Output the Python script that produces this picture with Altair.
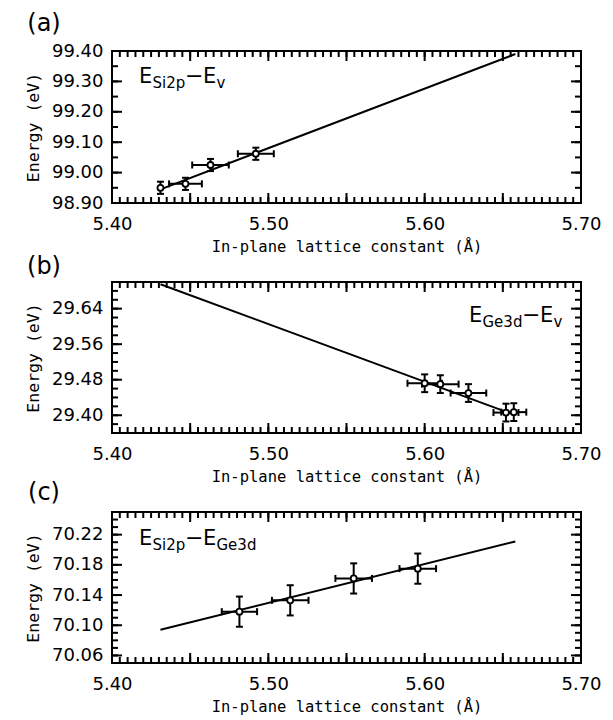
import altair as alt
import numpy as np
import pandas as pd

FONT = "DejaVu Sans"
TITLE_FONT = "DejaVu Sans Mono"
PANEL_W = 469

# Shared x axis: in-plane lattice constant (Å)
x_domain = [5.40, 5.70]
x_labels = [5.40, 5.50, 5.60, 5.70]

# (a) E_Si2p - E_v
a_x = [5.431, 5.447, 5.463, 5.492]
a_y = [98.950, 98.963, 99.025, 99.062]
a_xerr = [0.0, 0.0105, 0.0117, 0.0115]
a_yerr = [0.02, 0.02, 0.02, 0.02]
a_fit_x = [5.431, 5.658]
a_fit_y = [98.945, 99.390]
a_domain = [98.90, 99.40]
a_labels = [98.90, 99.00, 99.10, 99.20, 99.30, 99.40]

# (b) E_Ge3d - E_v
b_x = [5.600, 5.610, 5.628, 5.652, 5.657]
b_y = [29.472, 29.470, 29.450, 29.406, 29.407]
b_xerr = [0.011, 0.0117, 0.0114, 0.008, 0.008]
b_yerr = [0.02, 0.02, 0.02, 0.02, 0.02]
b_fit_x = [5.431, 5.658]
b_fit_y = [29.695, 29.400]
b_domain = [29.36, 29.70]
b_labels = [29.40, 29.48, 29.56, 29.64]

# (c) E_Si2p - E_Ge3d
c_x = [5.4815, 5.514, 5.5546, 5.5956]
c_y = [70.118, 70.133, 70.162, 70.175]
c_xerr = [0.0113, 0.0117, 0.0117, 0.0117]
c_yerr = [0.02, 0.02, 0.02, 0.02]
c_fit_x = [5.431, 5.658]
c_fit_y = [70.094, 70.211]
c_domain = [70.05, 70.25]
c_labels = [70.06, 70.10, 70.14, 70.18, 70.22]


def steps(lo, hi, step):
    return [round(float(v), 4) for v in np.arange(lo, hi + step / 2, step)]


def panel(xs, ys, xerr, yerr, fit_x, fit_y, ydom, ylabels, yminor, h,
          tag, tag_y, notes, anchor=False):
    xs_scale = alt.Scale(domain=x_domain, nice=False, zero=False)
    ys_scale = alt.Scale(domain=ydom, nice=False, zero=False)
    x_axis = alt.Axis(values=x_labels, format=".2f", ticks=False, domain=False,
                      grid=False, labelFont=FONT, labelFontSize=18,
                      labelColor="black", labelPadding=12, labelFlush=False,
                      labelOverlap=False, titleFont=TITLE_FONT,
                      titleFontSize=15.5, titleFontWeight="normal",
                      titleColor="black", titlePadding=6)
    y_axis = alt.Axis(values=ylabels, format=".2f", ticks=False, domain=False,
                      grid=False, labelFont=FONT, labelFontSize=18,
                      labelColor="black", labelPadding=9, labelFlush=False,
                      labelOverlap=False, titleFont=TITLE_FONT,
                      titleFontSize=16.5, titleFontWeight="normal",
                      titleColor="black", titlePadding=10)

    def X(f):
        return alt.X(f, type="quantitative", scale=xs_scale, axis=x_axis,
                     title="In-plane lattice constant (Å)")

    def Y(f):
        return alt.Y(f, type="quantitative", scale=ys_scale, axis=y_axis,
                     title="Energy (eV)")

    def Xp(f):
        return alt.X(f, type="quantitative", scale=xs_scale, axis=None)

    def Yp(f):
        return alt.Y(f, type="quantitative", scale=ys_scale, axis=None)

    pts = pd.DataFrame({"x": xs, "y": ys, "xe": xerr, "ye": yerr})
    pts["xlo"] = pts.x - pts.xe
    pts["xhi"] = pts.x + pts.xe
    pts["ylo"] = pts.y - pts.ye
    pts["yhi"] = pts.y + pts.ye
    hpts = pts[pts.xe > 0].reset_index(drop=True)
    caps_v = pd.DataFrame({"x": list(pts.x) * 2,
                           "y": list(pts.ylo) + list(pts.yhi)})
    caps_h = pd.DataFrame({"x": list(hpts.xlo) + list(hpts.xhi),
                           "y": list(hpts.y) * 2})
    fit = pd.DataFrame({"x": fit_x, "y": fit_y})

    # frame ticks pointing inward on all four edges
    frame = []
    x_long = steps(5.40, 5.70, 0.05)
    x_short = steps(5.40, 5.70, 0.005)
    y_long = list(ylabels)
    y_short = steps(ydom[0], ydom[1], yminor)
    for vals, ln in ((x_short, 6), (x_long, 10)):
        for edge, off in ((ydom[0], -ln / 2), (ydom[1], ln / 2)):
            df = pd.DataFrame({"tx": vals, "ty": [edge] * len(vals)})
            frame.append(alt.Chart(df).mark_tick(color="black",
                                                 orient="vertical", size=ln,
                                                 thickness=2, opacity=1,
                                                 yOffset=off)
                         .encode(x=Xp("tx"), y=Yp("ty")))
    for vals, ln in ((y_short, 6), (y_long, 10)):
        for edge, off in ((x_domain[0], ln / 2), (x_domain[1], -ln / 2)):
            df = pd.DataFrame({"tx": [edge] * len(vals), "ty": vals})
            frame.append(alt.Chart(df).mark_tick(color="black",
                                                 orient="horizontal", size=ln,
                                                 thickness=2, opacity=1,
                                                 xOffset=off)
                         .encode(x=Xp("tx"), y=Yp("ty")))

    main = []
    # fitted line
    main.append(alt.Chart(fit).mark_line(color="black", strokeWidth=2)
                .encode(x=X("x"), y=Y("y")))
    # error bars with caps
    main.append(alt.Chart(pts).mark_rule(color="black", strokeWidth=2)
                .encode(x=X("x"), y=Y("ylo"), y2="yhi"))
    main.append(alt.Chart(hpts).mark_rule(color="black", strokeWidth=2)
                .encode(x=X("xlo"), x2="xhi", y=Y("y")))
    main.append(alt.Chart(caps_v).mark_tick(color="black", orient="horizontal",
                                            size=7, thickness=2, opacity=1)
                .encode(x=X("x"), y=Y("y")))
    main.append(alt.Chart(caps_h).mark_tick(color="black", orient="vertical",
                                            size=7, thickness=2, opacity=1)
                .encode(x=X("x"), y=Y("y")))
    # open circles
    main.append(alt.Chart(pts).mark_point(shape="circle", filled=True,
                                          fill="white", stroke="black",
                                          strokeWidth=1.8, size=36, opacity=1)
                .encode(x=X("x"), y=Y("y")))

    one = pd.DataFrame({"k": [0]})
    # panel tag
    main.append(alt.Chart(one).mark_text(text=tag, font=FONT, fontSize=24,
                                         align="center", baseline="middle",
                                         color="black")
                .encode(x=alt.value(-68), y=alt.value(tag_y)))
    # energy-difference label with subscripts
    for txt, size, px, py in notes:
        main.append(alt.Chart(one).mark_text(text=txt, font=FONT,
                                             fontSize=size, align="left",
                                             baseline="alphabetic",
                                             color="black")
                    .encode(x=alt.value(px), y=alt.value(py)))
    if anchor:
        # keeps the page origin fixed relative to the first plot frame
        main.append(alt.Chart(one).mark_rule(opacity=0, strokeWidth=0)
                    .encode(x=alt.value(-111), x2=alt.value(-111),
                            y=alt.value(-50), y2=alt.value(-50)))

    return (
        alt.layer(alt.layer(*main), alt.layer(*frame))
        .resolve_axis(x="independent", y="independent")
        .properties(width=PANEL_W, height=h)
    )


notes_a = [("E", 21, 27, 32), ("Si2p", 15, 40.5, 37), ("−", 22, 73, 32),
           ("E", 21, 91, 32), ("v", 15, 104.5, 37)]
notes_b = [("E", 21, 357, 40), ("Ge3d", 15, 370.5, 45), ("−", 22, 410, 40),
           ("E", 21, 428, 40), ("v", 15, 441.5, 45)]
notes_c = [("E", 21, 27, 33), ("Si2p", 15, 40.5, 38), ("−", 22, 73, 33),
           ("E", 21, 91, 33), ("Ge3d", 15, 104.5, 38)]

pa = panel(a_x, a_y, a_xerr, a_yerr, a_fit_x, a_fit_y, a_domain, a_labels,
           0.05, 152, "(a)", -27, notes_a, anchor=True)
pb = panel(b_x, b_y, b_xerr, b_yerr, b_fit_x, b_fit_y, b_domain, b_labels,
           0.02, 151, "(b)", -15, notes_b)
pc = panel(c_x, c_y, c_xerr, c_yerr, c_fit_x, c_fit_y, c_domain, c_labels,
           0.01, 151, "(c)", -19, notes_c)

chart = (
    alt.vconcat(pa, pb, pc, spacing=79, bounds="flush")
    .properties(padding=0, background="white")
    .configure_view(stroke="black", strokeWidth=2)
)

chart.save("out.html", embed_options={"renderer": "svg", "actions": False})
